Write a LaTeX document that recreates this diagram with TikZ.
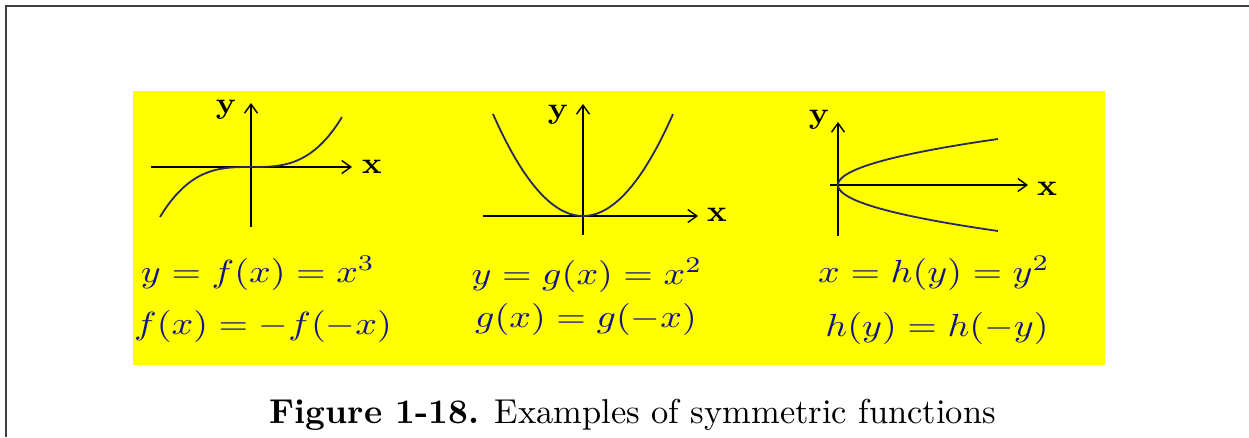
\documentclass[tikz,border=0pt]{standalone}
\usepackage{amsmath}
\usetikzlibrary{arrows.meta}
\definecolor{curvecol}{RGB}{40,40,90}
\definecolor{mathcol}{RGB}{20,20,135}
\definecolor{panelyellow}{RGB}{255,255,0}
\tikzset{
  axis/.style={line width=1.8pt,-{Straight Barb[length=9pt,width=13pt,line width=1.4pt]}},
  curve/.style={line width=1.8pt,curvecol,smooth,samples=60,domain=-1:1},
  axlabel/.style={inner sep=0pt},
  eqn/.style={text=mathcol,anchor=base,inner sep=0pt}
}
% 10pt glyphs blown up, as in the scanned original
\newcommand{\axtext}[1]{\scalebox{3.3}[3.0]{\textbf{#1}}}
\newcommand{\eqtext}[1]{\scalebox{3.8}[3.2]{$#1$}}
\begin{document}
\begin{tikzpicture}[x=1pt,y=-1pt]
  \useasboundingbox (0,0) rectangle (1249,437);
  \draw[line width=2pt,black!75] (6,437) -- (6,6) -- (1249,6);
  \fill[panelyellow] (133,91) rectangle (1105,365);
  % odd: y = x^3
  \draw[axis] (151,167) -- (352,167);
  \draw[axis] (251,227) -- (251,103);
  \draw[curve] plot ({251+91*\x},{167-50*\x*\x*\x});
  \node[axlabel] (yodd) at (226,110) {\axtext{y}};
  \node[axlabel] (xodd) at (372,167) {\axtext{x}};
  \node[eqn] (fdef) at (258,282) {\eqtext{y=f(x)=x^3}};
  \node[eqn] (fsym) at (263,334) {\eqtext{f(x)=-f(-x)}};
  % even: y = x^2
  \draw[axis] (483,216) -- (698,216);
  \draw[axis] (583,235) -- (583,104);
  \draw[curve] plot ({583+90*\x},{216-102*\x*\x});
  \node[axlabel] (yeven) at (558,115) {\axtext{y}};
  \node[axlabel] (xeven) at (717,215) {\axtext{x}};
  \node[eqn] (gdef) at (587,284) {\eqtext{y=g(x)=x^2}};
  \node[eqn] (gsym) at (586,327) {\eqtext{g(x)=g(-x)}};
  % x = y^2
  \draw[axis] (830,185) -- (1028,185);
  \draw[axis] (838,236) -- (838,122);
  \draw[curve] plot ({838+160*\x*\x},{185-46*\x});
  \node[axlabel] (yside) at (819,120) {\axtext{y}};
  \node[axlabel] (xside) at (1047,189) {\axtext{x}};
  \node[eqn] (hdef) at (934,282) {\eqtext{x=h(y)=y^2}};
  \node[eqn] (hsym) at (937,336) {\eqtext{h(y)=h(-y)}};
  \node[anchor=base,inner sep=0pt] (caption) at (633,423)
    {\scalebox{3.45}{\textbf{Figure 1-18.} Examples of symmetric functions}};
\end{tikzpicture}
\end{document}
